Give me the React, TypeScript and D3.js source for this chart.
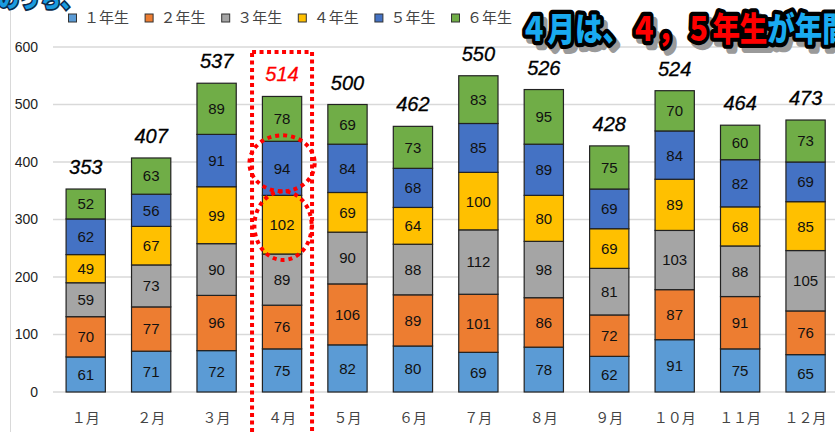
import React from "react";
import * as d3 from "d3";

const months = ["１月", "２月", "３月", "４月", "５月", "６月", "７月", "８月", "９月", "１０月", "１１月", "１２月"];
const grades = ["１年生", "２年生", "３年生", "４年生", "５年生", "６年生"];
const grade1 = [61, 71, 72, 75, 82, 80, 69, 78, 62, 91, 75, 65];
const grade2 = [70, 77, 96, 76, 106, 89, 101, 86, 72, 87, 91, 76];
const grade3 = [59, 73, 90, 89, 90, 88, 112, 98, 81, 103, 88, 105];
const grade4 = [49, 67, 99, 102, 69, 64, 100, 80, 69, 89, 68, 85];
const grade5 = [62, 56, 91, 94, 84, 68, 85, 89, 69, 84, 82, 69];
const grade6 = [52, 63, 89, 78, 69, 73, 83, 95, 75, 70, 60, 73];
const yTicks = [0, 100, 200, 300, 400, 500, 600];
const colors = ["#5b9bd5", "#ed7d31", "#a5a5a5", "#ffc000", "#4472c4", "#70ad47"];

const App = () => {
  const width = 835;
  const height = 432;
  const series = [grade1, grade2, grade3, grade4, grade5, grade6];

  const rows = months.map((m, i) => {
    const r: any = { month: m };
    grades.forEach((g, j) => (r[g] = series[j][i]));
    return r;
  });
  const stacked = d3.stack<any>().keys(grades)(rows);
  const totals = rows.map((r) => d3.sum(grades, (g) => r[g]));

  const x = d3
    .scaleBand()
    .domain(months)
    .range([53, 838.3])
    .paddingInner(0.4)
    .paddingOuter(0.2);
  const y = d3.scaleLinear().domain([0, 600]).range([392, 47]);
  const bw = x.bandwidth();

  // 4月 highlight
  const hi = 3;
  const cx = x(months[hi])! + bw / 2;
  const seg5 = stacked[4][hi];
  const seg4 = stacked[3][hi];

  const cjk = "'Noto Sans CJK JP', sans-serif";
  const num = "'Liberation Sans', Arial, sans-serif";

  const titleParts = [
    { t: "４月は、", c: "#19aaf0" },
    { t: "４，５年生", c: "#ff0000" },
    { t: "が年間", c: "#19aaf0" },
  ];

  const title = (mode: string) => (
    <text
      x={520}
      y={0}
      fontFamily={cjk}
      fontWeight={900}
      fontSize={27.5}
      transform={mode === "shadow" ? "translate(4,46) scale(1,1.2)" : "translate(0,41) scale(1,1.2)"}
      stroke={mode === "fill" ? "none" : mode === "shadow" ? "#9a9a9a" : "#000"}
      strokeWidth={mode === "fill" ? 0 : 7}
      strokeLinejoin="round"
      fill={mode === "shadow" ? "#9a9a9a" : "#000"}
    >
      {titleParts.map((p, i) => (
        <tspan key={i} fill={mode === "fill" ? p.c : undefined}>
          {p.t}
        </tspan>
      ))}
    </text>
  );

  return (
    <svg width={width} height={height} style={{ position: "absolute", left: 0, top: 0 }}>
      <rect width={width} height={height} fill="#fff" />
      <line x1={10.5} x2={10.5} y1={0} y2={height} stroke="#d9d9d9" />

      {/* gridlines + y labels */}
      {yTicks.map((t) => (
        <g key={t}>
          <line x1={53} x2={width} y1={y(t)} y2={y(t)} stroke="#d9d9d9" strokeWidth={1.3} />
          <text x={38} y={y(t)} dy="0.35em" textAnchor="end" fontFamily={num} fontSize={14} fill="#222">
            {t}
          </text>
        </g>
      ))}

      {/* bars */}
      {stacked.map((s, j) => (
        <g key={s.key}>
          {s.map((d, i) => (
            <g key={i}>
              <rect
                x={x(months[i])}
                y={y(d[1])}
                width={bw}
                height={y(d[0]) - y(d[1])}
                fill={colors[j]}
                stroke="#222"
                strokeWidth={1.2}
              />
              <text
                x={x(months[i])! + bw / 2}
                y={(y(d[0]) + y(d[1])) / 2}
                dy="0.36em"
                textAnchor="middle"
                fontFamily={num}
                fontSize={15}
                fill="#111"
              >
                {d[1] - d[0]}
              </text>
            </g>
          ))}
        </g>
      ))}

      {/* totals */}
      {totals.map((t, i) => (
        <text
          key={i}
          x={x(months[i])! + bw / 2}
          y={y(t) - 15}
          textAnchor="middle"
          fontFamily={num}
          fontStyle="italic"
          fontSize={20}
          fill={i === hi ? "#ff0000" : "#000"}
          stroke={i === hi ? "#ff0000" : "#000"}
          strokeWidth={0.3}
        >
          {t}
        </text>
      ))}

      {/* x labels */}
      {months.map((m) => (
        <text
          key={m}
          x={x(m)! + bw / 2}
          y={418}
          dy="0.35em"
          textAnchor="middle"
          fontFamily={cjk}
          fontSize={14}
          fill="#444"
        >
          {m}
        </text>
      ))}

      {/* legend */}
      {grades.map((g, j) => (
        <g key={g} transform={`translate(${68 + j * 76.6},18)`}>
          <rect x={0.5} y={-4} width={8} height={8} fill={colors[j]} stroke="#333" strokeWidth={1} />
          <text x={16} y={0} dy="0.35em" fontFamily={cjk} fontSize={15} fill="#444">
            {g}
          </text>
        </g>
      ))}

      {/* highlight for 4月 */}
      <rect
        x={cx - 30}
        y={52}
        width={60}
        height={400}
        fill="none"
        stroke="#ff0000"
        strokeWidth={4}
        strokeDasharray="4 3.5"
      />
      <ellipse
        cx={cx}
        cy={(y(seg5[0]) + y(seg5[1])) / 2 - 5}
        rx={bw / 2 + 13}
        ry={(y(seg5[0]) - y(seg5[1])) / 2 + 1}
        fill="none"
        stroke="#ff0000"
        strokeWidth={4}
        strokeDasharray="4 4"
      />
      <ellipse
        cx={cx + 1}
        cy={(y(seg4[0]) + y(seg4[1])) / 2 + 1}
        rx={bw / 2 + 9}
        ry={(y(seg4[0]) - y(seg4[1])) / 2 + 5}
        fill="none"
        stroke="#ff0000"
        strokeWidth={4}
        strokeDasharray="4 4"
      />

      {/* top-left caption (cut off) */}
      <text
        x={-2}
        y={0}
        transform="translate(0,7) scale(1,1.1)"
        fontFamily={cjk}
        fontWeight={900}
        fontSize={21}
        fill="#1a9be0"
        stroke="#0b2a4a"
        strokeWidth={3}
        paintOrder="stroke"
      >
        のうち、
      </text>

      {/* title */}
      {title("shadow")}
      {title("stroke")}
      {title("fill")}
    </svg>
  );
};

export default App;
